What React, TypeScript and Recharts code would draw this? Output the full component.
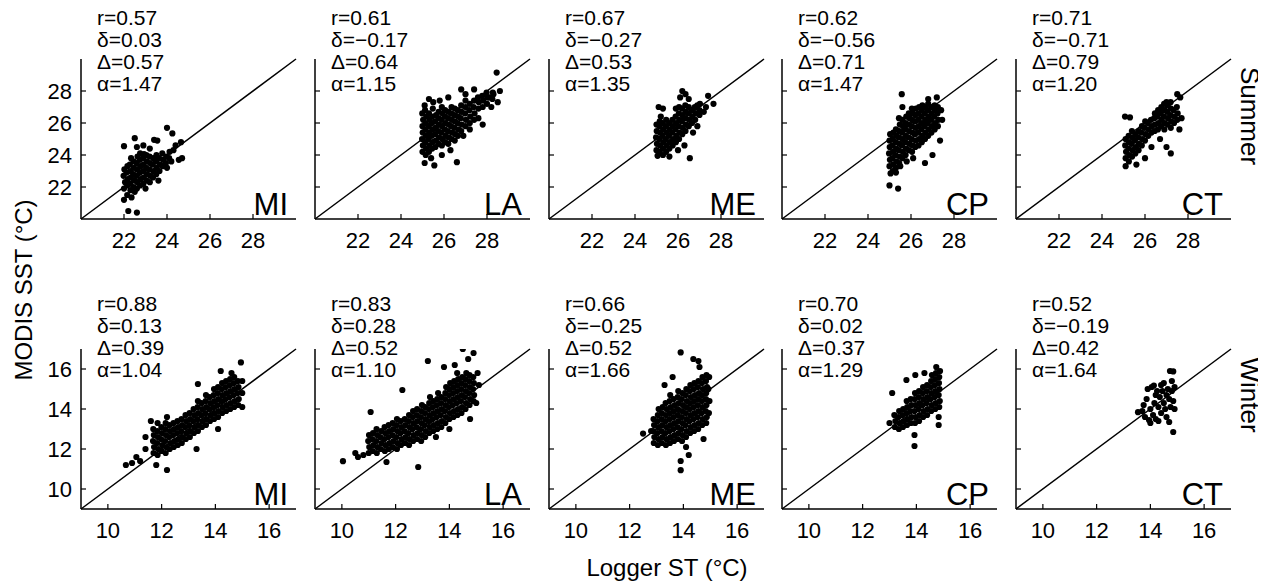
import { ScatterChart, Scatter, XAxis, YAxis, ReferenceLine } from "recharts";

const FONT = "Liberation Sans, Arial, Helvetica, sans-serif";

// sites, left to right
const sites = ["MI", "LA", "ME", "CP", "CT"];

// statistics printed in each panel
const summerR = [0.57, 0.61, 0.67, 0.62, 0.71];
const summerBias = [0.03, -0.17, -0.27, -0.56, -0.71];
const summerRmse = [0.57, 0.64, 0.53, 0.71, 0.79];
const summerAlpha = [1.47, 1.15, 1.35, 1.47, 1.2];

const winterR = [0.88, 0.83, 0.66, 0.7, 0.52];
const winterBias = [0.13, 0.28, -0.25, 0.02, -0.19];
const winterRmse = [0.39, 0.52, 0.52, 0.37, 0.42];
const winterAlpha = [1.04, 1.1, 1.66, 1.29, 1.64];

const summerDomain = [20, 30];
const summerTicks = [22, 24, 26, 28];
const winterDomain = [9, 17];
const winterTicks = [10, 12, 14, 16];

// logger ST vs MODIS SST
const miSummer = [
  [22.2, 20.5], [22.6, 20.4], [22.0, 21.2], [22.15, 21.5], [22.35, 21.35], [22.5, 21.7], [22.0, 24.55], [22.5, 25.05],
  [22.6, 24.5], [22.9, 24.6], [23.4, 24.95], [23.55, 24.9], [24.0, 25.7], [24.25, 25.35], [24.4, 24.6], [24.65, 24.8],
  [24.7, 23.8], [24.55, 23.7], [24.3, 24.3], [23.2, 24.4], [22.75, 24.1], [23.0, 21.9], [23.6, 22.4], [24.0, 23.2], [24.2, 23.6],
  [22.0, 21.9], [22.05, 22.3], [21.98, 22.7], [22.02, 23.1], [22.15, 22.1], [22.18, 22.5], [22.12, 22.9], [22.16, 23.3],
  [22.3, 21.8], [22.28, 22.2], [22.32, 22.6], [22.3, 23.0], [22.27, 23.4], [22.33, 23.8], [22.45, 22.0], [22.47, 22.4],
  [22.43, 22.8], [22.46, 23.2], [22.44, 23.6], [22.6, 21.9], [22.62, 22.3], [22.58, 22.7], [22.61, 23.1], [22.59, 23.5],
  [22.63, 23.9], [22.75, 22.1], [22.77, 22.5], [22.73, 22.9], [22.76, 23.3], [22.74, 23.7], [22.9, 22.2], [22.92, 22.6],
  [22.88, 23.0], [22.91, 23.4], [22.89, 23.8], [22.93, 24.05], [23.05, 22.4], [23.07, 22.8], [23.03, 23.2], [23.06, 23.6],
  [23.04, 24.0], [23.2, 22.3], [23.22, 22.7], [23.18, 23.1], [23.21, 23.5], [23.19, 23.9], [23.35, 22.6], [23.37, 23.0],
  [23.33, 23.4], [23.36, 23.8], [23.5, 22.8], [23.52, 23.2], [23.48, 23.6], [23.51, 24.0], [23.65, 23.0], [23.67, 23.4],
  [23.63, 23.8], [23.8, 23.3], [23.82, 23.7], [23.78, 24.1], [23.95, 23.5], [23.97, 23.9], [24.1, 23.8], [24.12, 24.2],
];

const laSummer = [
  [28.45, 29.15], [28.6, 28.0], [28.3, 27.8], [28.1, 27.6], [28.5, 27.3], [28.2, 27.0], [27.6, 26.3], [27.8, 25.9],
  [27.4, 28.1], [26.8, 28.1], [27.0, 27.8], [25.3, 27.5], [25.5, 27.3], [25.1, 27.1], [25.8, 27.4], [26.2, 27.6],
  [25.1, 23.5], [25.55, 23.35], [26.6, 23.55], [25.4, 23.8], [25.9, 24.0], [26.3, 24.3], [26.9, 25.2], [27.2, 25.6],
  [25.0, 24.2], [25.02, 24.6], [24.98, 25.0], [25.01, 25.4], [25.0, 25.8], [25.03, 26.2], [24.99, 26.6],
  [25.15, 24.0], [25.17, 24.4], [25.13, 24.8], [25.16, 25.2], [25.14, 25.6], [25.15, 26.0], [25.18, 26.4], [25.12, 26.8],
  [25.3, 24.2], [25.32, 24.6], [25.28, 25.0], [25.31, 25.4], [25.29, 25.8], [25.33, 26.2], [25.3, 26.6],
  [25.45, 24.4], [25.47, 24.8], [25.43, 25.2], [25.46, 25.6], [25.44, 26.0], [25.45, 26.4], [25.48, 26.9],
  [25.6, 24.5], [25.62, 24.9], [25.58, 25.3], [25.61, 25.7], [25.59, 26.1], [25.63, 26.5],
  [25.75, 24.7], [25.77, 25.1], [25.73, 25.5], [25.76, 25.9], [25.74, 26.3], [25.75, 26.7],
  [25.9, 24.6], [25.92, 25.0], [25.88, 25.4], [25.91, 25.8], [25.89, 26.2], [25.93, 26.6], [25.9, 27.0],
  [26.05, 24.8], [26.07, 25.2], [26.03, 25.6], [26.06, 26.0], [26.04, 26.4], [26.05, 26.8],
  [26.2, 24.7], [26.22, 25.1], [26.18, 25.5], [26.21, 25.9], [26.19, 26.3], [26.2, 26.7],
  [26.35, 25.0], [26.37, 25.4], [26.33, 25.8], [26.36, 26.2], [26.34, 26.6], [26.35, 27.0],
  [26.5, 24.9], [26.52, 25.3], [26.48, 25.7], [26.51, 26.1], [26.49, 26.5], [26.5, 26.9],
  [26.65, 25.2], [26.67, 25.6], [26.63, 26.0], [26.66, 26.4], [26.64, 26.8],
  [26.8, 25.5], [26.82, 25.9], [26.78, 26.3], [26.81, 26.7], [26.8, 27.1],
  [27.0, 25.8], [27.02, 26.2], [26.98, 26.6], [27.01, 27.0], [27.0, 27.4],
  [27.2, 26.0], [27.22, 26.4], [27.18, 26.8], [27.2, 27.2], [27.4, 26.2], [27.42, 26.6], [27.38, 27.0], [27.4, 27.4],
  [27.6, 26.9], [27.62, 27.3], [27.58, 27.6], [27.8, 27.0], [27.82, 27.4], [27.78, 27.7],
  [28.0, 27.2], [28.02, 27.6], [27.98, 27.9], [28.25, 27.5], [28.27, 27.9],
];

const meSummer = [
  [26.2, 28.0], [26.35, 27.8], [26.1, 27.6], [26.5, 27.5], [27.4, 27.7], [27.65, 27.2], [27.3, 27.0], [26.9, 27.1],
  [27.0, 26.5], [27.2, 26.7], [26.55, 23.8], [25.3, 24.0], [25.6, 23.9], [25.05, 23.95], [26.0, 24.3], [26.3, 24.6],
  [25.1, 27.0], [25.3, 26.9], [25.2, 26.4], [26.7, 25.4], [26.9, 25.8],
  [25.0, 24.3], [25.02, 24.7], [24.98, 25.1], [25.01, 25.5], [25.0, 25.9],
  [25.15, 24.2], [25.17, 24.6], [25.13, 25.0], [25.16, 25.4], [25.14, 25.8], [25.15, 26.1],
  [25.3, 24.4], [25.32, 24.8], [25.28, 25.2], [25.31, 25.6], [25.29, 26.0],
  [25.45, 24.2], [25.47, 24.6], [25.43, 25.0], [25.46, 25.4], [25.44, 25.8], [25.45, 26.2],
  [25.6, 24.4], [25.62, 24.8], [25.58, 25.2], [25.61, 25.6], [25.59, 26.0],
  [25.75, 24.6], [25.77, 25.0], [25.73, 25.4], [25.76, 25.8], [25.74, 26.2],
  [25.9, 24.8], [25.92, 25.2], [25.88, 25.6], [25.91, 26.0], [25.89, 26.4], [25.9, 26.9],
  [26.05, 25.0], [26.07, 25.4], [26.03, 25.8], [26.06, 26.2], [26.04, 26.6], [26.05, 27.0],
  [26.2, 25.3], [26.22, 25.7], [26.18, 26.1], [26.21, 26.5], [26.19, 26.9],
  [26.35, 25.5], [26.37, 25.9], [26.33, 26.3], [26.36, 26.7], [26.34, 27.1],
  [26.5, 25.8], [26.52, 26.2], [26.48, 26.6], [26.5, 27.0],
  [26.65, 26.0], [26.67, 26.4], [26.63, 26.8], [26.8, 26.2], [26.82, 26.6], [26.78, 27.0], [27.0, 26.8], [27.02, 27.2],
];

const cpSummer = [
  [25.0, 22.1], [25.4, 21.9], [25.05, 22.85], [25.3, 22.9], [25.57, 27.8], [25.6, 27.0], [26.8, 27.5], [27.2, 27.6],
  [27.35, 24.9], [27.0, 24.0], [26.65, 23.5], [25.8, 23.6], [26.1, 23.8], [25.5, 23.3], [27.4, 26.8], [27.45, 26.2],
  [25.0, 23.3], [25.02, 23.7], [24.98, 24.1], [25.01, 24.5], [25.0, 24.9], [25.03, 25.3],
  [25.15, 23.0], [25.17, 23.4], [25.13, 23.8], [25.16, 24.2], [25.14, 24.6], [25.15, 25.0], [25.18, 25.4],
  [25.3, 23.2], [25.32, 23.6], [25.28, 24.0], [25.31, 24.4], [25.29, 24.8], [25.33, 25.2], [25.3, 25.6],
  [25.45, 23.5], [25.47, 23.9], [25.43, 24.3], [25.46, 24.7], [25.44, 25.1], [25.45, 25.5], [25.48, 25.9], [25.44, 26.3],
  [25.6, 23.8], [25.62, 24.2], [25.58, 24.6], [25.61, 25.0], [25.59, 25.4], [25.63, 25.8], [25.6, 26.2],
  [25.75, 24.0], [25.77, 24.4], [25.73, 24.8], [25.76, 25.2], [25.74, 25.6], [25.75, 26.0], [25.78, 26.4],
  [25.9, 24.3], [25.92, 24.7], [25.88, 25.1], [25.91, 25.5], [25.89, 25.9], [25.93, 26.3], [25.9, 26.6],
  [26.05, 24.2], [26.07, 24.6], [26.03, 25.0], [26.06, 25.4], [26.04, 25.8], [26.05, 26.2], [26.08, 26.6], [26.04, 26.9],
  [26.2, 24.5], [26.22, 24.9], [26.18, 25.3], [26.21, 25.7], [26.19, 26.1], [26.2, 26.5], [26.23, 26.9],
  [26.35, 24.6], [26.37, 25.0], [26.33, 25.4], [26.36, 25.8], [26.34, 26.2], [26.35, 26.6], [26.38, 27.0],
  [26.5, 24.8], [26.52, 25.2], [26.48, 25.6], [26.51, 26.0], [26.49, 26.4], [26.5, 26.8], [26.53, 27.1],
  [26.65, 25.0], [26.67, 25.4], [26.63, 25.8], [26.66, 26.2], [26.64, 26.6], [26.65, 27.0],
  [26.8, 25.2], [26.82, 25.6], [26.78, 26.0], [26.81, 26.4], [26.79, 26.8], [26.8, 27.2],
  [26.95, 25.4], [26.97, 25.8], [26.93, 26.2], [26.96, 26.6], [26.94, 27.0],
  [27.1, 25.6], [27.12, 26.0], [27.08, 26.4], [27.11, 26.8], [27.1, 27.1],
  [27.25, 25.8], [27.27, 26.2], [27.23, 26.6], [27.25, 27.0],
];

const ctSummer = [
  [25.1, 23.3], [25.6, 23.4], [26.0, 23.8], [25.07, 26.4], [25.3, 26.35], [27.64, 27.6], [27.5, 27.8], [27.0, 27.3],
  [27.0, 24.5], [27.2, 24.1], [27.7, 26.3], [27.6, 25.6], [26.7, 25.0], [26.3, 24.5],
  [25.1, 23.8], [25.12, 24.2], [25.08, 24.6], [25.1, 25.0],
  [25.25, 23.6], [25.27, 24.0], [25.23, 24.4], [25.26, 24.8], [25.24, 25.2],
  [25.4, 23.9], [25.42, 24.3], [25.38, 24.7], [25.41, 25.1], [25.39, 25.5],
  [25.55, 24.1], [25.57, 24.5], [25.53, 24.9], [25.56, 25.3],
  [25.7, 24.3], [25.72, 24.7], [25.68, 25.1], [25.71, 25.5],
  [25.85, 24.6], [25.87, 25.0], [25.83, 25.4], [25.86, 25.8],
  [26.0, 24.9], [26.02, 25.3], [25.98, 25.7], [26.01, 26.1],
  [26.15, 25.2], [26.17, 25.6], [26.13, 26.0], [26.3, 25.4], [26.32, 25.8], [26.28, 26.2],
  [26.45, 25.5], [26.47, 25.9], [26.43, 26.3], [26.46, 26.6],
  [26.6, 25.6], [26.62, 26.0], [26.58, 26.4], [26.61, 26.8],
  [26.75, 25.8], [26.77, 26.2], [26.73, 26.6], [26.76, 27.0],
  [26.9, 25.6], [26.92, 26.0], [26.88, 26.4], [26.91, 26.8], [26.89, 27.2],
  [27.05, 25.9], [27.07, 26.3], [27.03, 26.7], [27.06, 27.1],
  [27.2, 25.7], [27.22, 26.1], [27.18, 26.5], [27.21, 26.9], [27.19, 27.3],
  [27.35, 26.0], [27.37, 26.4], [27.33, 26.8], [27.5, 26.2], [27.52, 26.6], [27.48, 27.0],
];

const miWinter = [
  [10.67, 11.2], [11.06, 11.6], [11.4, 12.0], [11.2, 11.4], [10.9, 11.3], [11.8, 11.2], [12.2, 10.95], [14.95, 16.33],
  [14.2, 15.9], [13.35, 15.25], [12.2, 13.6], [13.3, 12.0], [11.4, 12.6], [11.6, 13.4], [14.6, 15.8], [15.0, 14.1],
  [15.0, 14.8], [15.0, 15.4], [14.1, 13.0],
  [11.7, 11.8], [11.72, 12.1], [11.68, 12.4], [11.71, 12.7], [11.69, 13.0],
  [11.85, 11.7], [11.87, 12.0], [11.83, 12.3], [11.86, 12.6], [11.84, 12.9], [11.85, 13.3],
  [12.0, 11.9], [12.02, 12.2], [11.98, 12.5], [12.01, 12.8], [11.99, 13.1],
  [12.15, 11.8], [12.17, 12.1], [12.13, 12.4], [12.16, 12.7], [12.14, 13.0], [12.15, 13.3],
  [12.3, 12.0], [12.32, 12.3], [12.28, 12.6], [12.31, 12.9], [12.29, 13.2],
  [12.45, 12.1], [12.47, 12.4], [12.43, 12.7], [12.46, 13.0], [12.44, 13.3],
  [12.6, 12.2], [12.62, 12.5], [12.58, 12.8], [12.61, 13.1], [12.59, 13.4],
  [12.75, 12.3], [12.77, 12.6], [12.73, 12.9], [12.76, 13.2], [12.74, 13.5],
  [12.9, 12.5], [12.92, 12.8], [12.88, 13.1], [12.91, 13.4], [12.89, 13.7],
  [13.05, 12.6], [13.07, 12.9], [13.03, 13.2], [13.06, 13.5], [13.04, 13.8],
  [13.2, 12.8], [13.22, 13.1], [13.18, 13.4], [13.21, 13.7], [13.19, 14.0],
  [13.35, 12.9], [13.37, 13.2], [13.33, 13.5], [13.36, 13.8], [13.34, 14.1], [13.35, 14.4],
  [13.5, 13.1], [13.52, 13.4], [13.48, 13.7], [13.51, 14.0], [13.49, 14.3],
  [13.65, 13.2], [13.67, 13.5], [13.63, 13.8], [13.66, 14.1], [13.64, 14.4], [13.65, 14.7],
  [13.8, 13.4], [13.82, 13.7], [13.78, 14.0], [13.81, 14.3], [13.79, 14.6],
  [13.95, 13.5], [13.97, 13.8], [13.93, 14.1], [13.96, 14.4], [13.94, 14.7], [13.95, 15.0],
  [14.1, 13.6], [14.12, 13.9], [14.08, 14.2], [14.11, 14.5], [14.09, 14.8], [14.1, 15.1],
  [14.25, 13.8], [14.27, 14.1], [14.23, 14.4], [14.26, 14.7], [14.24, 15.0], [14.25, 15.3],
  [14.4, 13.9], [14.42, 14.2], [14.38, 14.5], [14.41, 14.8], [14.39, 15.1], [14.4, 15.4],
  [14.55, 14.0], [14.57, 14.3], [14.53, 14.6], [14.56, 14.9], [14.54, 15.2], [14.55, 15.5],
  [14.7, 14.1], [14.72, 14.4], [14.68, 14.7], [14.71, 15.0], [14.69, 15.3], [14.7, 15.6],
  [14.85, 14.2], [14.87, 14.5], [14.83, 14.8], [14.86, 15.1], [14.84, 15.4],
];

const laWinter = [
  [10.04, 11.39], [10.5, 11.8], [10.6, 11.6], [10.8, 11.7], [11.07, 13.85], [12.25, 14.95], [13.2, 16.4], [14.5, 17.0],
  [14.9, 16.8], [14.7, 16.5], [14.2, 16.2], [13.8, 16.1], [12.84, 11.1], [11.66, 11.35], [14.77, 13.5], [15.0, 14.3],
  [15.1, 15.2], [15.05, 15.8], [14.0, 13.0], [13.5, 12.6],
  [11.0, 11.8], [11.02, 12.1], [10.98, 12.4], [11.01, 12.7],
  [11.15, 11.9], [11.17, 12.2], [11.13, 12.5], [11.16, 12.8],
  [11.3, 11.8], [11.32, 12.1], [11.28, 12.4], [11.31, 12.7], [11.29, 13.0],
  [11.45, 12.0], [11.47, 12.3], [11.43, 12.6], [11.46, 12.9],
  [11.6, 11.9], [11.62, 12.2], [11.58, 12.5], [11.61, 12.8], [11.59, 13.1],
  [11.75, 12.0], [11.77, 12.3], [11.73, 12.6], [11.76, 12.9], [11.74, 13.2],
  [11.9, 12.1], [11.92, 12.4], [11.88, 12.7], [11.91, 13.0], [11.89, 13.3],
  [12.05, 12.0], [12.07, 12.3], [12.03, 12.6], [12.06, 12.9], [12.04, 13.2], [12.05, 13.5],
  [12.2, 12.2], [12.22, 12.5], [12.18, 12.8], [12.21, 13.1], [12.19, 13.4],
  [12.35, 12.3], [12.37, 12.6], [12.33, 12.9], [12.36, 13.2], [12.34, 13.5],
  [12.5, 12.2], [12.52, 12.5], [12.48, 12.8], [12.51, 13.1], [12.49, 13.4], [12.5, 13.7],
  [12.65, 12.4], [12.67, 12.7], [12.63, 13.0], [12.66, 13.3], [12.64, 13.6], [12.65, 13.9],
  [12.8, 12.5], [12.82, 12.8], [12.78, 13.1], [12.81, 13.4], [12.79, 13.7], [12.8, 14.0],
  [12.95, 12.4], [12.97, 12.7], [12.93, 13.0], [12.96, 13.3], [12.94, 13.6], [12.95, 13.9], [12.98, 14.2],
  [13.1, 12.6], [13.12, 12.9], [13.08, 13.2], [13.11, 13.5], [13.09, 13.8], [13.1, 14.1],
  [13.25, 12.8], [13.27, 13.1], [13.23, 13.4], [13.26, 13.7], [13.24, 14.0], [13.25, 14.3], [13.28, 14.6],
  [13.4, 12.9], [13.42, 13.2], [13.38, 13.5], [13.41, 13.8], [13.39, 14.1], [13.4, 14.4],
  [13.55, 13.0], [13.57, 13.3], [13.53, 13.6], [13.56, 13.9], [13.54, 14.2], [13.55, 14.5], [13.58, 14.8],
  [13.7, 13.1], [13.72, 13.4], [13.68, 13.7], [13.71, 14.0], [13.69, 14.3], [13.7, 14.6],
  [13.85, 13.3], [13.87, 13.6], [13.83, 13.9], [13.86, 14.2], [13.84, 14.5], [13.85, 14.8], [13.88, 15.1],
  [14.0, 13.5], [14.02, 13.8], [13.98, 14.1], [14.01, 14.4], [13.99, 14.7], [14.0, 15.0], [14.03, 15.3],
  [14.15, 13.6], [14.17, 13.9], [14.13, 14.2], [14.16, 14.5], [14.14, 14.8], [14.15, 15.1], [14.18, 15.4],
  [14.3, 13.7], [14.32, 14.0], [14.28, 14.3], [14.31, 14.6], [14.29, 14.9], [14.3, 15.2], [14.33, 15.5], [14.29, 15.8],
  [14.45, 13.8], [14.47, 14.1], [14.43, 14.4], [14.46, 14.7], [14.44, 15.0], [14.45, 15.3], [14.48, 15.6],
  [14.6, 14.0], [14.62, 14.3], [14.58, 14.6], [14.61, 14.9], [14.59, 15.2], [14.6, 15.5], [14.63, 15.8],
  [14.75, 14.2], [14.77, 14.5], [14.73, 14.8], [14.76, 15.1], [14.74, 15.4], [14.75, 15.7],
  [14.9, 14.4], [14.92, 14.7], [14.88, 15.0], [14.91, 15.3], [14.89, 15.6],
];

const meWinter = [
  [13.9, 16.83], [14.37, 16.5], [14.56, 16.4], [14.6, 16.1], [13.9, 10.94], [13.9, 11.4], [14.2, 11.7], [14.1, 12.1],
  [12.5, 12.77], [12.8, 12.9], [14.75, 12.5], [13.3, 15.2], [13.6, 15.6],
  [12.9, 12.3], [12.92, 12.6], [12.88, 12.9], [12.91, 13.2], [12.89, 13.5],
  [13.05, 12.2], [13.07, 12.5], [13.03, 12.8], [13.06, 13.1], [13.04, 13.4], [13.05, 13.7], [13.08, 14.0],
  [13.2, 12.3], [13.22, 12.6], [13.18, 12.9], [13.21, 13.2], [13.19, 13.5], [13.2, 13.8], [13.23, 14.1],
  [13.35, 12.2], [13.37, 12.5], [13.33, 12.8], [13.36, 13.1], [13.34, 13.4], [13.35, 13.7], [13.38, 14.0], [13.34, 14.3],
  [13.5, 12.3], [13.52, 12.6], [13.48, 12.9], [13.51, 13.2], [13.49, 13.5], [13.5, 13.8], [13.53, 14.1], [13.49, 14.4], [13.51, 14.7],
  [13.65, 12.4], [13.67, 12.7], [13.63, 13.0], [13.66, 13.3], [13.64, 13.6], [13.65, 13.9], [13.68, 14.2], [13.64, 14.5],
  [13.8, 12.5], [13.82, 12.8], [13.78, 13.1], [13.81, 13.4], [13.79, 13.7], [13.8, 14.0], [13.83, 14.3], [13.79, 14.6], [13.81, 14.9],
  [13.95, 12.4], [13.97, 12.7], [13.93, 13.0], [13.96, 13.3], [13.94, 13.6], [13.95, 13.9], [13.98, 14.2], [13.94, 14.5], [13.96, 14.8],
  [14.1, 12.6], [14.12, 12.9], [14.08, 13.2], [14.11, 13.5], [14.09, 13.8], [14.1, 14.1], [14.13, 14.4], [14.09, 14.7], [14.11, 15.0],
  [14.25, 12.8], [14.27, 13.1], [14.23, 13.4], [14.26, 13.7], [14.24, 14.0], [14.25, 14.3], [14.28, 14.6], [14.24, 14.9], [14.26, 15.2],
  [14.4, 12.9], [14.42, 13.2], [14.38, 13.5], [14.41, 13.8], [14.39, 14.1], [14.4, 14.4], [14.43, 14.7], [14.39, 15.0], [14.41, 15.3],
  [14.55, 13.0], [14.57, 13.3], [14.53, 13.6], [14.56, 13.9], [14.54, 14.2], [14.55, 14.5], [14.58, 14.8], [14.54, 15.1], [14.56, 15.4],
  [14.7, 13.2], [14.72, 13.5], [14.68, 13.8], [14.71, 14.1], [14.69, 14.4], [14.7, 14.7], [14.73, 15.0], [14.69, 15.3], [14.71, 15.6],
  [14.85, 13.3], [14.87, 13.6], [14.83, 13.9], [14.86, 14.2], [14.84, 14.5], [14.85, 14.8], [14.88, 15.1], [14.84, 15.4], [14.86, 15.7],
  [14.95, 13.8], [14.97, 14.4], [14.93, 15.0], [14.96, 15.6],
];

const cpWinter = [
  [13.1, 14.8], [13.63, 15.45], [13.93, 12.15], [13.93, 12.7], [14.83, 13.6], [14.83, 13.2], [14.74, 16.1], [13.96, 15.7],
  [14.3, 15.8], [13.0, 13.3],
  [13.2, 13.1], [13.22, 13.4], [13.18, 13.7],
  [13.35, 13.0], [13.37, 13.3], [13.33, 13.6], [13.36, 13.9],
  [13.5, 13.1], [13.52, 13.4], [13.48, 13.7], [13.51, 14.0],
  [13.65, 13.2], [13.67, 13.5], [13.63, 13.8], [13.66, 14.1], [13.64, 14.4],
  [13.8, 13.3], [13.82, 13.6], [13.78, 13.9], [13.81, 14.2], [13.79, 14.5],
  [13.95, 13.3], [13.97, 13.6], [13.93, 13.9], [13.96, 14.2], [13.94, 14.5], [13.95, 14.8],
  [14.1, 13.4], [14.12, 13.7], [14.08, 14.0], [14.11, 14.3], [14.09, 14.6], [14.1, 14.9],
  [14.25, 13.6], [14.27, 13.9], [14.23, 14.2], [14.26, 14.5], [14.24, 14.8], [14.25, 15.1],
  [14.4, 13.7], [14.42, 14.0], [14.38, 14.3], [14.41, 14.6], [14.39, 14.9], [14.4, 15.2],
  [14.55, 13.9], [14.57, 14.2], [14.53, 14.5], [14.56, 14.8], [14.54, 15.1], [14.55, 15.4], [14.58, 15.7],
  [14.7, 14.0], [14.72, 14.3], [14.68, 14.6], [14.71, 14.9], [14.69, 15.2], [14.7, 15.5], [14.73, 15.8],
  [14.85, 14.1], [14.87, 14.4], [14.83, 14.7], [14.86, 15.0], [14.84, 15.3], [14.85, 15.6], [14.88, 15.9],
];

const ctWinter = [
  [14.73, 15.9], [14.85, 15.88], [14.13, 15.17], [14.85, 12.85], [14.7, 13.35], [13.54, 13.84], [13.86, 14.5], [13.7, 13.9],
  [13.8, 13.6], [13.95, 13.45], [14.0, 14.0], [14.1, 13.7], [14.15, 14.3], [14.2, 13.5], [14.3, 14.1], [14.35, 14.6],
  [14.4, 13.8], [14.45, 14.9], [14.5, 14.3], [14.55, 14.0], [14.6, 14.7], [14.65, 15.0], [14.7, 14.5], [14.75, 14.1],
  [14.8, 14.9], [14.85, 14.4], [14.9, 15.1], [14.25, 14.9], [14.05, 15.1], [13.9, 15.0], [14.5, 15.3], [14.3, 13.4],
  [14.6, 13.6], [14.9, 14.0], [14.4, 15.2], [14.2, 14.7], [13.75, 14.2], [14.0, 13.3], [14.8, 15.4],
];

const summerPoints = [miSummer, laSummer, meSummer, cpSummer, ctSummer];
const winterPoints = [miWinter, laWinter, meWinter, cpWinter, ctWinter];

// layout
const colX = [81, 315, 549, 782, 1016];
const PLOT_W = 215;
const PLOT_H = 160;
const summerTop = 59;
const winterTop = 349;

const fmt = (v: number) => (v < 0 ? "\u2212" + Math.abs(v).toFixed(2) : v.toFixed(2));

const Dot = (p: any) => <circle cx={p.cx} cy={p.cy} r={3.1} fill="#000" />;

const XTick = (props: any) => {
  const { x, y, payload } = props;
  return (
    <g>
      <line x1={x} x2={x} y1={y} y2={y - 5} stroke="#000" strokeWidth={1.2} />
      <text x={x} y={y + 29} textAnchor="middle" fontSize={22} fontFamily={FONT} fill="#000">
        {payload.value}
      </text>
    </g>
  );
};

const makeYTick = (show: boolean) => (props: any) => {
  const { x, y, payload } = props;
  return (
    <g>
      <line x1={x} x2={x + 5} y1={y} y2={y} stroke="#000" strokeWidth={1.2} />
      {show && (
        <text x={x - 9} y={y + 8} textAnchor="end" fontSize={22} fontFamily={FONT} fill="#000">
          {payload.value}
        </text>
      )}
    </g>
  );
};

interface PanelProps {
  points: number[][];
  domain: number[];
  ticks: number[];
  left: number;
  top: number;
  showY: boolean;
}

function Panel({ points, domain, ticks, left, top, showY }: PanelProps) {
  const data = points.map(([x, y]) => ({ x, y }));
  return (
    <div style={{ position: "absolute", left: left - 60, top: top - 10 }}>
      <ScatterChart width={60 + PLOT_W + 15} height={10 + PLOT_H + 50} margin={{ top: 10, right: 15, bottom: 0, left: 0 }}>
        <XAxis
          type="number"
          dataKey="x"
          domain={domain}
          ticks={ticks}
          interval={0}
          height={50}
          tickSize={0}
          tickMargin={0}
          tickLine={false}
          axisLine={{ stroke: "#000", strokeWidth: 1.5 }}
          tick={XTick}
          allowDataOverflow
        />
        <YAxis
          type="number"
          dataKey="y"
          domain={domain}
          ticks={ticks}
          interval={0}
          width={60}
          tickSize={0}
          tickMargin={0}
          tickLine={false}
          axisLine={{ stroke: "#000", strokeWidth: 1.5 }}
          tick={makeYTick(showY)}
          allowDataOverflow
        />
        <ReferenceLine
          segment={[
            { x: domain[0], y: domain[0] },
            { x: domain[1], y: domain[1] },
          ]}
          stroke="#000"
          strokeWidth={1.5}
        />
        <Scatter data={data} shape={Dot} isAnimationActive={false} />
      </ScatterChart>
    </div>
  );
}

function StatsText({ x, y, r, d, D, a }: { x: number; y: number; r: number; d: number; D: number; a: number }) {
  const lines = ["r=" + r.toFixed(2), "\u03b4=" + fmt(d), "\u0394=" + fmt(D), "\u03b1=" + fmt(a)];
  return (
    <>
      {lines.map((t, i) => (
        <text key={i} x={x} y={y + i * 22.2} fontSize={21} fontFamily={FONT} fill="#000">
          {t}
        </text>
      ))}
    </>
  );
}

export default function App() {
  return (
    <div style={{ position: "relative", width: 1266, height: 585, margin: "-8px 0 0 -8px", background: "#fff" }}>
      {summerPoints.map((pts, i) => (
        <Panel key={"s" + i} points={pts} domain={summerDomain} ticks={summerTicks} left={colX[i]} top={summerTop} showY={i === 0} />
      ))}
      {winterPoints.map((pts, i) => (
        <Panel key={"w" + i} points={pts} domain={winterDomain} ticks={winterTicks} left={colX[i]} top={winterTop} showY={i === 0} />
      ))}
      <svg width={1266} height={585} style={{ position: "absolute", left: 0, top: 0, pointerEvents: "none" }}>
        {sites.map((s, i) => (
          <g key={s}>
            <StatsText x={colX[i] + 16} y={24.5} r={summerR[i]} d={summerBias[i]} D={summerRmse[i]} a={summerAlpha[i]} />
            <StatsText x={colX[i] + 16} y={310.5} r={winterR[i]} d={winterBias[i]} D={winterRmse[i]} a={winterAlpha[i]} />
            <text x={colX[i] + 207} y={summerTop + PLOT_H - 4} textAnchor="end" fontSize={31} fontFamily={FONT} fill="#000">
              {s}
            </text>
            <text x={colX[i] + 207} y={winterTop + PLOT_H - 4} textAnchor="end" fontSize={31} fontFamily={FONT} fill="#000">
              {s}
            </text>
          </g>
        ))}
        <text transform="translate(32,290) rotate(-90)" textAnchor="middle" fontSize={24} fontFamily={FONT} fill="#000">
          MODIS SST (°C)
        </text>
        <text x={667} y={576} textAnchor="middle" fontSize={24} fontFamily={FONT} fill="#000">
          Logger ST (°C)
        </text>
        <text transform="translate(1241,116) rotate(90)" textAnchor="middle" fontSize={26} fontFamily={FONT} fill="#000">
          Summer
        </text>
        <text transform="translate(1241,395) rotate(90)" textAnchor="middle" fontSize={26} fontFamily={FONT} fill="#000">
          Winter
        </text>
      </svg>
    </div>
  );
}
